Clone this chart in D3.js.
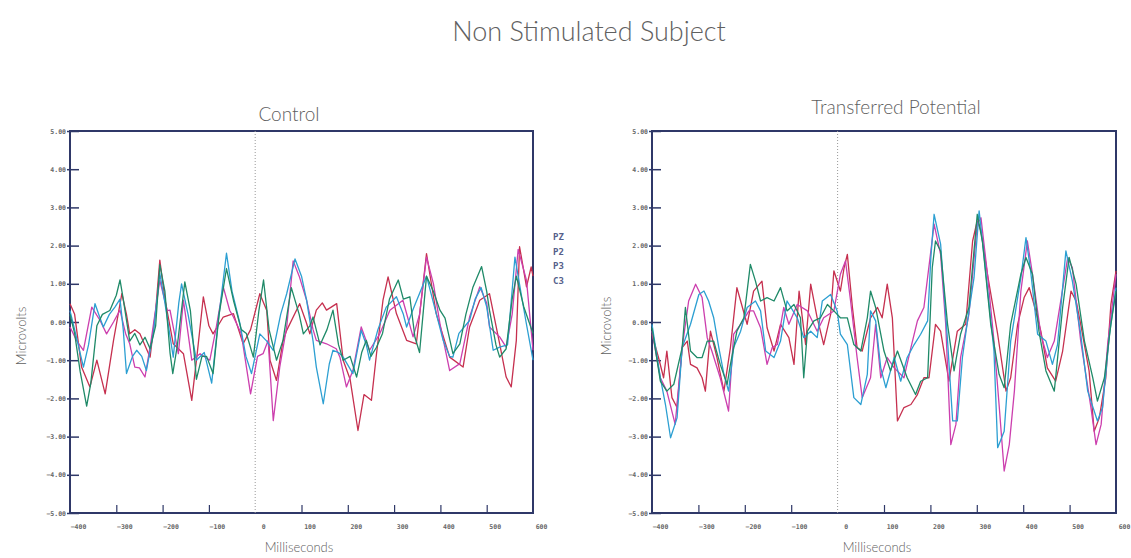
<!DOCTYPE html>
<html>
<head>
<meta charset="utf-8">
<script src="https://cdn.jsdelivr.net/npm/d3@7"></script>
<style>
  body { margin: 0; background: #fff; }
  svg { display: block; }
</style>
</head>
<body>
<div id="chart"></div>
<script>
// values, [ms, microvolts]
const xTicks = [-400, -300, -200, -100, 0, 100, 200, 300, 400, 500, 600];
const yTicks = [5, 4, 3, 2, 1, 0, -1, -2, -3, -4, -5];
const channels = ["PZ", "P2", "P3", "C3"];

const controlGreen = [[-400,0.2],[-390,-0.3],[-378,-1.3],[-364,-2.2],[-355,-1.6],[-342,-0.1],[-330,0.2],[-314,0.3],[-300,0.7],[-292,1.1],[-285,0.6],[-271,-0.5],[-260,-0.3],[-249,-0.6],[-238,-0.4],[-227,-0.7],[-215,-0.1],[-206,1.5],[-195,0.8],[-184,-0.8],[-178,-1.35],[-168,-0.6],[-152,1.05],[-140,0.3],[-127,-1.5],[-115,-0.9],[-105,-0.9],[-91,-1.35],[-78,0.2],[-62,1.4],[-47,0.57],[-30,-0.2],[-19,-0.3],[-4,-0.92],[8,0.3],[18,1.1],[30,-0.2],[46,-1.0],[60,-0.48],[78,0.9],[95,0.2],[104,-0.31],[118,-0.1],[125,0.13],[140,-0.6],[155,-0.2],[168,0.31],[180,-0.6],[190,-1.0],[205,-0.9],[219,-1.44],[230,-0.8],[240,-0.48],[250,-0.9],[262,-0.66],[275,-0.3],[290,0.6],[309,1.1],[320,0.6],[334,0.66],[345,-0.4],[355,-0.8],[370,1.2],[385,0.8],[399,0.31],[410,0.1],[427,-0.83],[442,-0.57],[455,0.2],[470,0.9],[489,1.45],[500,0.8],[506,0.31],[520,-0.6],[528,-0.92],[542,-0.7],[555,0.6],[564,1.2],[580,0.4],[600,-0.3]];
const controlBlue = [[-400,0.3],[-390,-0.2],[-371,-1.18],[-360,-0.6],[-346,0.48],[-335,0.1],[-328,-0.13],[-315,0.2],[-303,0.39],[-292,0.6],[-285,-0.2],[-278,-1.35],[-265,-0.9],[-256,-0.74],[-245,-0.9],[-235,-1.27],[-220,-0.3],[-206,1.27],[-195,0.5],[-177,-0.92],[-165,0.5],[-159,1.0],[-145,0.2],[-127,-1.0],[-110,-0.8],[-94,-1.6],[-80,0],[-62,1.8],[-50,0.8],[-33,-0.04],[-20,-0.9],[-8,-1.35],[10,-0.31],[25,-0.5],[39,-0.74],[55,0.2],[68,0.74],[86,1.65],[100,1.2],[111,0.57],[125,-0.5],[132,-1.18],[147,-2.14],[160,-1.1],[168,-0.74],[180,-0.8],[190,-0.92],[211,-1.35],[229,-0.22],[240,-0.6],[247,-1.0],[265,-0.2],[283,0.39],[305,0.66],[320,0.2],[327,-0.13],[340,0.3],[370,1.2],[385,0.5],[406,-0.48],[420,-0.9],[427,-0.92],[440,-0.3],[463,0.04],[475,0.6],[488,0.9],[500,0.4],[514,-0.74],[528,-0.66],[545,-0.6],[561,1.7],[575,0.7],[585,0.0],[600,-1.0]];
const controlMagenta = [[-400,-0.13],[-385,-0.5],[-371,-0.74],[-353,0.39],[-335,0.04],[-321,-0.31],[-306,0.0],[-292,0.31],[-280,-0.3],[-271,-0.57],[-260,-1.18],[-250,-1.2],[-238,-1.44],[-225,-0.5],[-206,1.09],[-190,0.3],[-184,0.31],[-166,-0.83],[-155,0.57],[-145,-0.3],[-137,-1.0],[-119,-0.83],[-98,-1.0],[-85,-0.2],[-69,0.92],[-55,0.3],[-47,0.13],[-30,-0.31],[-10,-1.88],[5,-0.9],[17,-0.83],[28,-0.48],[39,-2.58],[53,-1.18],[68,-0.13],[82,1.6],[95,1.2],[111,0.57],[125,-0.2],[132,-0.48],[154,-0.57],[175,-0.7],[183,-0.92],[197,-1.7],[211,-1.27],[229,-0.13],[247,-0.74],[269,-0.31],[291,0.31],[319,0.57],[341,-0.39],[355,0.2],[370,1.7],[385,1.0],[399,-0.04],[420,-1.27],[442,-1.09],[463,0.13],[485,0.92],[500,0.5],[506,-0.13],[528,-0.39],[542,-0.66],[555,0.2],[568,1.9],[586,1.09],[600,-0.74]];
const controlRed = [[-400,0.48],[-390,0.2],[-375,-1.18],[-357,-1.7],[-342,-1.0],[-324,-1.88],[-306,-0.48],[-288,0.74],[-278,0.2],[-271,-0.31],[-260,-0.2],[-249,-0.31],[-227,-0.92],[-215,0.3],[-206,1.62],[-195,0.6],[-177,-0.57],[-155,-0.83],[-137,-2.05],[-125,-0.8],[-112,0.66],[-100,-0.1],[-91,-0.31],[-69,0.13],[-47,0.22],[-26,-0.57],[-10,-0.2],[10,0.74],[25,0.3],[32,-1.0],[46,-1.53],[60,-0.5],[68,-0.22],[96,0.48],[110,0.0],[118,-0.31],[132,0.31],[145,0.5],[154,0.31],[176,0.48],[190,-1.0],[205,-1.5],[222,-2.84],[235,-1.9],[251,-2.05],[262,-0.83],[276,0.57],[287,1.18],[305,0.22],[327,-0.48],[348,-0.57],[370,1.79],[391,0.22],[420,-0.92],[449,-1.18],[463,-0.13],[485,0.57],[506,0.74],[528,-0.57],[542,-1.44],[553,-1.7],[564,-0.48],[571,1.97],[586,0.92],[596,1.44],[600,1.2]];

const transferBlue = [[-400,-0.06],[-382,-1.46],[-371,-2.16],[-360,-3.03],[-346,-2.51],[-335,-0.67],[-317,-0.06],[-299,0.72],[-288,0.81],[-278,0.55],[-267,0.11],[-256,-0.67],[-245,-1.37],[-235,-1.81],[-224,-0.67],[-209,-0.24],[-195,0.38],[-177,0.55],[-166,0.29],[-155,-0.76],[-137,-0.93],[-123,-0.50],[-109,0.55],[-87,0.11],[-73,-0.41],[-58,-0.24],[-44,-0.41],[-33,0.55],[-15,0.72],[-1,0.29],[6,-0.32],[21,-0.59],[35,-1.98],[50,-2.16],[64,-1.37],[71,0.29],[82,0.03],[93,-1.20],[104,-1.72],[122,-0.93],[136,-1.55],[150,-0.93],[165,-0.59],[179,-0.32],[194,0.03],[201,1.69],[208,2.82],[222,2.04],[237,-0.50],[248,-2.59],[258,-2.59],[269,-0.93],[280,0.03],[294,1.16],[305,2.91],[316,1.69],[337,-0.76],[345,-3.29],[359,-2.86],[373,-0.50],[395,1.16],[406,2.21],[416,1.34],[431,-0.32],[449,-0.50],[463,-1.11],[474,-0.59],[492,1.86],[506,1.07],[524,-0.32],[539,-1.81],[560,-2.59],[571,-2.24],[586,-0.32],[600,0.90]];
const transferMagenta = [[-400,-0.24],[-382,-1.46],[-368,-1.81],[-350,-2.68],[-335,-0.67],[-321,0.55],[-306,0.99],[-292,0.64],[-281,-0.41],[-271,-0.76],[-253,-1.46],[-235,-2.33],[-224,-0.32],[-209,-0.06],[-191,0.29],[-181,0.29],[-166,-0.15],[-152,-1.11],[-141,-0.67],[-130,-0.59],[-116,0.38],[-105,-0.06],[-87,0.46],[-65,0.29],[-44,-0.24],[-30,0.11],[-8,0.29],[6,1.25],[17,1.60],[28,0.55],[42,-0.93],[53,-1.98],[71,-1.46],[82,-0.06],[93,-1.46],[107,-0.93],[122,-1.20],[143,-1.46],[158,-0.67],[172,0.03],[186,0.38],[201,1.86],[208,2.56],[222,1.77],[233,-0.06],[244,-3.21],[255,-2.68],[265,-0.93],[283,0.20],[301,2.56],[309,2.73],[323,1.25],[337,-0.50],[348,-2.16],[359,-3.90],[370,-3.21],[381,-1.81],[395,0.81],[409,2.12],[420,1.25],[438,-0.32],[452,-0.93],[467,-0.50],[496,1.69],[506,1.42],[524,-0.50],[546,-2.24],[557,-3.21],[568,-2.68],[582,-0.59],[600,1.25]];
const transferRed = [[-400,-0.32],[-386,-0.93],[-375,-1.46],[-368,-0.76],[-357,-1.98],[-346,-2.24],[-335,-0.67],[-324,-0.50],[-317,-1.11],[-303,-1.20],[-292,-1.46],[-285,-1.81],[-274,-0.24],[-260,-0.93],[-245,-1.81],[-231,-0.67],[-217,0.90],[-209,0.55],[-195,-0.06],[-181,0.81],[-163,1.07],[-152,-0.15],[-137,-0.76],[-123,-0.06],[-105,-0.41],[-94,-1.11],[-83,0.81],[-69,-0.59],[-58,0.99],[-44,0.11],[-30,-0.59],[-15,0.20],[-8,1.34],[6,0.81],[14,1.42],[21,1.77],[32,0.38],[42,-0.67],[53,-0.76],[71,0.11],[86,0.38],[96,0.11],[107,0.99],[118,0.11],[129,-2.59],[143,-2.24],[158,-2.16],[172,-1.90],[186,-1.46],[197,-1.46],[211,-0.06],[222,-0.24],[240,-1.55],[258,-0.24],[276,-0.06],[291,2.12],[301,2.65],[309,2.38],[323,1.25],[345,-0.32],[363,-1.81],[373,-1.46],[388,-0.06],[402,0.64],[413,0.90],[427,0.29],[438,-0.24],[452,-1.20],[470,-1.55],[485,-0.76],[503,0.81],[514,0.55],[524,-0.06],[542,-1.28],[553,-2.86],[564,-2.51],[578,-1.46],[589,0.46],[600,1.34]];
const transferGreen = [[-400,-0.15],[-382,-1.55],[-368,-1.81],[-353,-1.63],[-335,-0.67],[-328,0.38],[-317,-0.76],[-303,-0.93],[-292,-0.93],[-281,-0.50],[-267,-0.50],[-253,-1.11],[-238,-1.63],[-231,-1.11],[-217,-0.24],[-202,0.11],[-188,1.51],[-177,1.07],[-166,0.55],[-152,0.64],[-137,0.55],[-123,0.90],[-109,0.29],[-94,0.46],[-80,0.11],[-73,-1.46],[-65,-0.24],[-51,0.03],[-37,0.11],[-22,0.46],[-8,0.29],[6,0.11],[21,0.11],[35,-0.59],[50,-0.76],[64,0.11],[71,0.81],[82,0.38],[100,-0.76],[114,-1.28],[129,-0.76],[150,-1.46],[168,-1.90],[179,-1.55],[194,-1.46],[204,1.42],[211,2.12],[222,1.86],[237,-0.06],[251,-1.28],[265,-0.32],[283,0.38],[301,2.82],[312,2.12],[330,-0.06],[348,-1.37],[359,-1.72],[373,-0.06],[395,1.25],[406,1.69],[420,1.25],[434,-0.24],[449,-1.28],[467,-1.81],[485,0.38],[499,1.69],[514,0.99],[532,-0.50],[550,-1.46],[560,-2.07],[575,-1.46],[589,-0.06],[600,0.81]];

const colors = { magenta: "#cc3fae", red: "#c6304f", green: "#1f8a68", blue: "#2c9fd2" };
const frameColor = "#2f3868";
const textColor = "#606060";

const svg = d3.select("#chart").append("svg")
  .attr("width", 1131)
  .attr("height", 558);

svg.append("text")
  .attr("x", 589)
  .attr("y", 41)
  .attr("text-anchor", "middle")
  .style("font-family", "Lato")
  .style("font-weight", "300")
  .style("font-size", "27px")
  .style("fill", textColor)
  .text("Non Stimulated Subject");

function drawPanel(cfg) {
  const x = d3.scaleLinear().domain([-400, 600]).range([cfg.left, cfg.right]);
  const y = d3.scaleLinear().domain([-5, 5]).range([513, 131]);
  const g = svg.append("g");

  // frame
  g.append("rect")
    .attr("x", cfg.left)
    .attr("y", y(5))
    .attr("width", cfg.right - cfg.left)
    .attr("height", y(-5) - y(5))
    .attr("fill", "none")
    .attr("stroke", frameColor)
    .attr("stroke-width", 2);

  // zero line
  g.append("line")
    .attr("x1", x(0)).attr("x2", x(0))
    .attr("y1", y(5)).attr("y2", y(-5))
    .attr("stroke", "#999")
    .attr("stroke-width", 1)
    .attr("stroke-dasharray", "1 2");

  // y axis
  g.append("g")
    .attr("transform", `translate(${cfg.left},0)`)
    .call(d3.axisRight(y).tickValues(yTicks).tickSize(9).tickFormat(d3.format(".2f")))
    .call(a => a.select(".domain").remove())
    .call(a => {
      a.selectAll(".tick line").attr("stroke", frameColor).attr("stroke-width", 1.5).attr("x1", -3);
      a.selectAll(".tick text")
        .attr("x", -4)
        .attr("text-anchor", "end")
        .style("font-family", "DejaVu Sans Mono")
        .style("font-size", "6.5px")
        .style("font-weight", "bold")
        .style("fill", "#666");
    });

  // x axis
  g.append("g")
    .attr("transform", `translate(0,${y(-5)})`)
    .call(d3.axisTop(x).tickValues(xTicks).tickSize(8))
    .call(a => a.select(".domain").remove())
    .call(a => {
      a.selectAll(".tick line").attr("stroke", frameColor).attr("stroke-width", 1.2);
      a.selectAll(".tick").filter(d => d === 0 || d === -400 || d === 600).select("line").remove();
      a.selectAll(".tick text")
        .attr("y", 16)
        .attr("dx", 8)
        .style("font-family", "DejaVu Sans Mono")
        .style("font-size", "6.5px")
        .style("font-weight", "bold")
        .style("fill", "#666");
    });

  const line = d3.line().x(d => x(d[0])).y(d => y(d[1]));
  cfg.series.forEach(s => {
    g.append("path")
      .datum(s.values)
      .attr("d", line)
      .attr("fill", "none")
      .attr("stroke", s.color)
      .attr("stroke-width", 1.3)
      .attr("stroke-linejoin", "round");
  });

  g.append("text")
    .attr("x", cfg.titleX)
    .attr("y", cfg.titleY)
    .attr("text-anchor", "middle")
    .style("font-family", "Lato")
    .style("font-weight", "300")
    .style("font-size", "19px")
    .style("fill", textColor)
    .text(cfg.title);

  g.append("text")
    .attr("transform", `translate(${cfg.yLabelX},${cfg.yLabelY}) rotate(-90)`)
    .attr("text-anchor", "middle")
    .style("font-family", "Lato")
    .style("font-weight", "300")
    .style("font-size", "13px")
    .style("fill", textColor)
    .text("Microvolts");

  g.append("text")
    .attr("x", cfg.xLabelX)
    .attr("y", 552)
    .attr("text-anchor", "middle")
    .style("font-family", "Lato")
    .style("font-weight", "300")
    .style("font-size", "13px")
    .style("fill", textColor)
    .text("Milliseconds");
}

drawPanel({
  left: 70, right: 533,
  title: "Control", titleX: 289, titleY: 121,
  yLabelX: 26, yLabelY: 336, xLabelX: 299,
  series: [
    { values: controlRed, color: colors.red },
    { values: controlMagenta, color: colors.magenta },
    { values: controlBlue, color: colors.blue },
    { values: controlGreen, color: colors.green }
  ]
});

drawPanel({
  left: 652, right: 1116,
  title: "Transferred Potential", titleX: 896, titleY: 114,
  yLabelX: 611, yLabelY: 326, xLabelX: 877,
  series: [
    { values: transferRed, color: colors.red },
    { values: transferMagenta, color: colors.magenta },
    { values: transferBlue, color: colors.blue },
    { values: transferGreen, color: colors.green }
  ]
});

// channel legend
svg.append("g")
  .selectAll("text")
  .data(channels)
  .join("text")
  .attr("x", 553)
  .attr("y", (d, i) => 240 + i * 14.5)
  .style("font-family", "DejaVu Sans Mono")
  .style("font-size", "9px")
  .style("font-weight", "bold")
  .style("fill", "#55608a")
  .text(d => d);
</script>
</body>
</html>
